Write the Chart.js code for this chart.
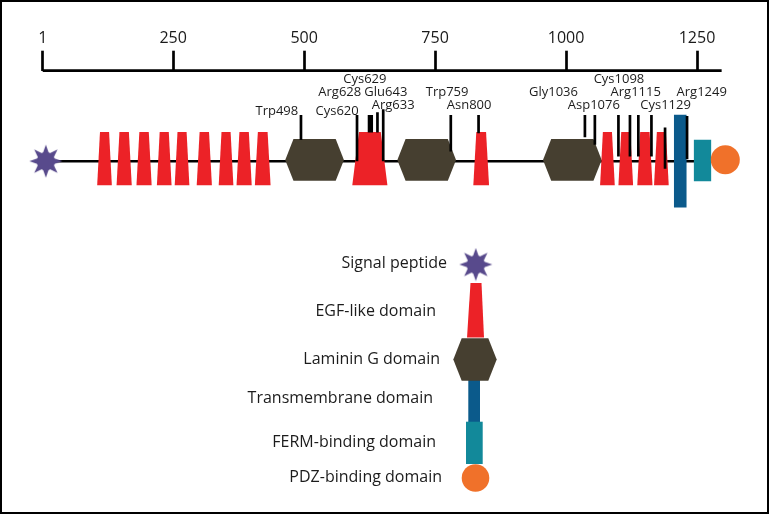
<!DOCTYPE html>
<html>
<head>
<meta charset="utf-8">
<script src="https://cdn.jsdelivr.net/npm/chart.js@4.4.1/dist/chart.umd.min.js"></script>
<style>
  html, body { margin: 0; padding: 0; background: #fff; }
  #wrap { width: 770px; height: 515px; }
</style>
</head>
<body>
<div id="wrap"><canvas id="domainChart" width="770" height="515"></canvas></div>
<script>
// Residue axis
const axisTicks = [1, 250, 500, 750, 1000, 1250];
const axisEnd = 1297;

// Domains, in residues (the drawing is schematic)
const egfStart = [105, 142, 180, 219, 253, 295, 337, 371, 406, 592, 823, 1065, 1100, 1136, 1168];
const egfEnd   = [133, 171, 209, 247, 281, 324, 365, 400, 436, 659, 853, 1093, 1128, 1165, 1196];
const lamGStart = [464, 678, 956];
const lamGEnd   = [576, 790, 1068];
const tmRange = [1206, 1230];
const fermRange = [1244, 1277];
const signalSite = 7;
const pdzSite = 1304;

// Mutation markers (where each tick sits on the axis)
const mutSite = [494, 601, 624, 629, 640, 651, 780, 833, 1036, 1055, 1100, 1122, 1138, 1163, 1189, 1231];

// Mutation labels
const mutLabels = ['Trp498', 'Cys620', 'Arg628', 'Cys629', 'Glu643', 'Arg633', 'Trp759', 'Asn800',
                   'Gly1036', 'Asp1076', 'Cys1098', 'Arg1115', 'Cys1129', 'Arg1249'];
const mutLabelAt = [448, 563, 568, 616, 656, 670, 773, 815, 976, 1053, 1101, 1133, 1190, 1259];
const mutLabelRow = [3, 3, 1, 0, 1, 2, 1, 2, 1, 2, 0, 1, 2, 1];

const legendNames = ['Signal peptide', 'EGF-like domain', 'Laminin G domain',
                     'Transmembrane domain', 'FERM-binding domain', 'PDZ-binding domain'];

// ---- layout / style (pixels) ----
const AXIS_Y = 70.7;
const TRACK_Y = 165;
const EGF_TOP = 134.5, EGF_BOTTOM = 190, EGF_INSET = 0.19;
const HEX_TOP = 142, HEX_BOTTOM = 185.5, HEX_INSET = 0.14;
const TM_TOP = 116.7, TM_BOTTOM = 213.3;
const FERM_TOP = 142.7, FERM_BOTTOM = 186;
const PDZ_Y = 163.5;
const markTop    = [117, 117, 117, 117, 114, 111, 117, 117, 117, 117, 117, 117, 117, 117, 130, 118];
const markBottom = [143, 165, 135, 135, 135, 165, 155, 136, 140, 148, 160, 160, 160, 160, 173, 163];
const rowY = [80, 93.5, 107, 112.5];
const legendRight = [447, 436, 440, 433, 436, 442];
const legendBase = [268.3, 316, 364, 403.3, 447.3, 482.3];

const colors = {
  red: '#ec2227',
  hex: '#463f30',
  tm: '#0b5a8b',
  ferm: '#12899a',
  pdz: '#f0712a',
  sig: '#584a8c',
  ink: '#1c1c1c'
};
const FONT = '"Open Sans", "DejaVu Sans", sans-serif';

// signal peptide glyph: disc with 8 spikes
function makeStar(size, color) {
  const c = document.createElement('canvas');
  c.width = c.height = size;
  const g = c.getContext('2d');
  const m = size / 2;
  g.fillStyle = color;
  g.beginPath();
  g.arc(m, m, size * 0.27, 0, Math.PI * 2);
  g.fill();
  for (let k = 0; k < 8; k++) {
    const a = k * Math.PI / 4;
    g.beginPath();
    g.moveTo(m + Math.cos(a) * m * 0.97, m + Math.sin(a) * m * 0.97);
    g.lineTo(m + Math.cos(a + 0.36) * m * 0.5, m + Math.sin(a + 0.36) * m * 0.5);
    g.lineTo(m + Math.cos(a - 0.36) * m * 0.5, m + Math.sin(a - 0.36) * m * 0.5);
    g.closePath();
    g.fill();
  }
  return c;
}
const starImg = makeStar(34, colors.sig);

function polygon(points, color) {
  return {
    type: 'line',
    data: points,
    fill: 'shape',
    backgroundColor: color,
    borderColor: 'rgba(0,0,0,0)',
    borderWidth: 0,
    pointRadius: 0,
    tension: 0,
    order: 20
  };
}

const datasets = [];

// axis line and backbone
datasets.push({
  type: 'line',
  data: [{ x: axisTicks[0], y: AXIS_Y }, { x: axisEnd, y: AXIS_Y }],
  borderColor: '#000', borderWidth: 2.7, pointRadius: 0, clip: false, order: 40
});
datasets.push({
  type: 'line',
  data: [{ x: signalSite, y: TRACK_Y }, { x: pdzSite, y: TRACK_Y }],
  borderColor: '#000', borderWidth: 2.5, pointRadius: 0, order: 40
});

// EGF-like domains (trapezoids)
egfStart.forEach((s, i) => {
  const e = egfEnd[i];
  const d = (e - s) * EGF_INSET;
  datasets.push(polygon([
    { x: s, y: EGF_BOTTOM }, { x: s + d, y: EGF_TOP },
    { x: e - d, y: EGF_TOP }, { x: e, y: EGF_BOTTOM }
  ], colors.red));
});

// Laminin G domains (hexagons)
const hexMid = (HEX_TOP + HEX_BOTTOM) / 2;
lamGStart.forEach((s, i) => {
  const e = lamGEnd[i];
  const d = (e - s) * HEX_INSET;
  datasets.push(polygon([
    { x: s, y: hexMid }, { x: s + d, y: HEX_TOP }, { x: e - d, y: HEX_TOP },
    { x: e, y: hexMid }, { x: e - d, y: HEX_BOTTOM }, { x: s + d, y: HEX_BOTTOM }
  ], colors.hex));
});

// transmembrane and FERM-binding blocks
datasets.push(polygon([
  { x: tmRange[0], y: TM_TOP }, { x: tmRange[1], y: TM_TOP },
  { x: tmRange[1], y: TM_BOTTOM }, { x: tmRange[0], y: TM_BOTTOM }
], colors.tm));
datasets.push(polygon([
  { x: fermRange[0], y: FERM_TOP }, { x: fermRange[1], y: FERM_TOP },
  { x: fermRange[1], y: FERM_BOTTOM }, { x: fermRange[0], y: FERM_BOTTOM }
], colors.ferm));

// mutation ticks, one segment each, broken by gaps
const markData = [];
mutSite.forEach((m, i) => {
  markData.push({ x: m, y: markTop[i] }, { x: m, y: markBottom[i] }, { x: m, y: null });
});
datasets.push({
  type: 'line', data: markData, borderColor: '#000', borderWidth: 2.7,
  borderCapStyle: 'butt', pointRadius: 0, spanGaps: false, order: 5
});

// PDZ-binding circle and signal peptide
datasets.push({
  type: 'scatter', data: [{ x: pdzSite, y: PDZ_Y }],
  pointRadius: 14.5, pointBackgroundColor: colors.pdz, pointBorderWidth: 0, clip: false, order: 10
});
datasets.push({
  type: 'scatter', data: [{ x: signalSite, y: TRACK_Y }],
  pointStyle: starImg, pointRadius: 17, clip: false, order: 10
});

// labels, legend and frame
const annotate = {
  id: 'annotate',
  afterDraw(chart) {
    const ctx = chart.ctx;
    const xs = chart.scales.x, ys = chart.scales.y;
    ctx.save();
    ctx.fillStyle = colors.ink;
    ctx.font = '13px ' + FONT;
    ctx.textAlign = 'center';
    ctx.textBaseline = 'middle';
    mutLabels.forEach((t, i) => {
      ctx.fillText(t, xs.getPixelForValue(mutLabelAt[i]), ys.getPixelForValue(rowY[mutLabelRow[i]]));
    });

    // legend
    ctx.font = '16px ' + FONT;
    ctx.textAlign = 'right';
    ctx.textBaseline = 'alphabetic';
    legendNames.forEach((t, i) => ctx.fillText(t, legendRight[i], legendBase[i]));

    ctx.drawImage(starImg, 475.8 - 17, 264.5 - 17);
    ctx.fillStyle = colors.red;
    ctx.beginPath();
    ctx.moveTo(470.5, 283); ctx.lineTo(481.5, 283); ctx.lineTo(484, 337.5); ctx.lineTo(467, 337.5);
    ctx.closePath(); ctx.fill();
    ctx.fillStyle = colors.tm;
    ctx.fillRect(468.3, 378, 11.7, 44);
    ctx.fillStyle = colors.ferm;
    ctx.fillRect(466, 421.7, 16.7, 42.3);
    ctx.fillStyle = colors.hex;
    ctx.beginPath();
    ctx.moveTo(453.3, 359.5); ctx.lineTo(461.7, 338.3); ctx.lineTo(488.3, 338.3);
    ctx.lineTo(496.7, 359.5); ctx.lineTo(488.3, 380.7); ctx.lineTo(461.7, 380.7);
    ctx.closePath(); ctx.fill();
    ctx.fillStyle = colors.pdz;
    ctx.beginPath();
    ctx.arc(475.5, 478, 13.8, 0, Math.PI * 2);
    ctx.fill();

    // outer frame
    ctx.strokeStyle = '#000';
    ctx.lineWidth = 2;
    ctx.strokeRect(1, 1, 767, 512);
    ctx.restore();
  }
};

new Chart(document.getElementById('domainChart'), {
  type: 'scatter',
  data: { datasets },
  options: {
    responsive: false,
    animation: false,
    events: [],
    layout: { padding: { left: 42.7, right: 20.6, top: 25.5, bottom: 0 } },
    plugins: { legend: { display: false }, tooltip: { enabled: false } },
    scales: {
      x: {
        type: 'linear',
        position: 'top',
        min: 1,
        max: 1350,
        offset: false,
        afterBuildTicks: s => { s.ticks = axisTicks.map(v => ({ value: v })); },
        ticks: {
          callback: v => String(v),
          font: { family: FONT, size: 16 },
          color: '#1a1a1a',
          padding: 3,
          maxRotation: 0,
          autoSkip: false
        },
        grid: {
          drawOnChartArea: false,
          drawTicks: true,
          tickLength: 20,
          tickColor: '#000',
          tickWidth: 2.7,
          offset: false
        },
        border: { display: false }
      },
      y: {
        type: 'linear',
        display: false,
        reverse: true,
        min: AXIS_Y,
        max: 515,
        beginAtZero: false
      }
    }
  },
  plugins: [annotate]
});
</script>
</body>
</html>
